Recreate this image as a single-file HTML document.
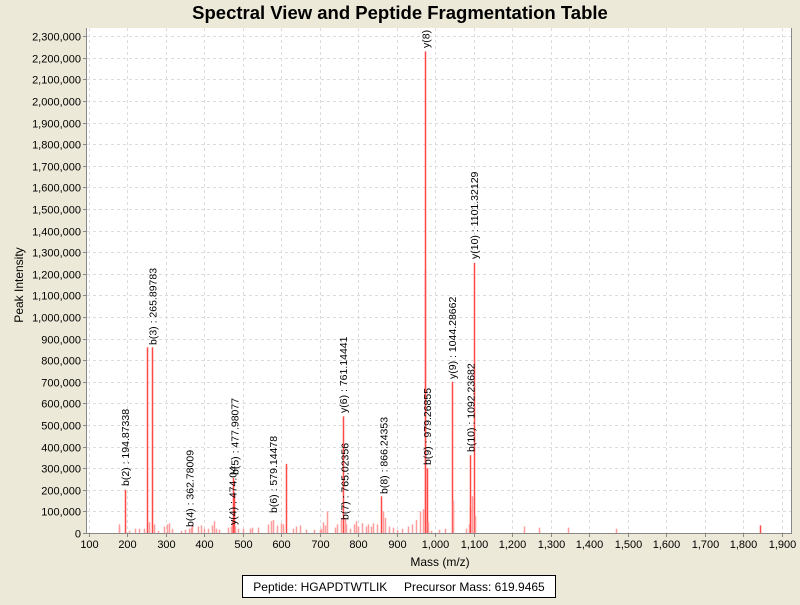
<!DOCTYPE html>
<html><head><meta charset="utf-8"><style>
body{margin:0;background:#ece9d8;width:800px;height:600px;overflow:hidden;font-family:"Liberation Sans",sans-serif}
</style></head><body>
<svg id="s" width="800" height="600" xmlns="http://www.w3.org/2000/svg" font-family="Liberation Sans, sans-serif">
<rect width="800" height="600" fill="#ece9d8"/>
<text x="400" y="19" text-anchor="middle" font-size="18.5" font-weight="bold">Spectral View and Peptide Fragmentation Table</text>
<defs><clipPath id="c"><rect x="87" y="28" width="705" height="505"/></clipPath></defs>
<rect x="87" y="28" width="705" height="505" fill="#fff"/>
<g id="grid"></g>
<g id="peaks" clip-path="url(#c)"></g>
<g id="labels" clip-path="url(#c)" font-size="10.5"></g>
<line x1="86.5" y1="28" x2="86.5" y2="533.5" stroke="#888"/>
<line x1="86" y1="533.5" x2="792" y2="533.5" stroke="#888"/>
<line x1="791.5" y1="28" x2="791.5" y2="533.5" stroke="#888"/>
<g id="ticks" font-size="11"></g>
<text x="440" y="566" text-anchor="middle" font-size="12">Mass (m/z)</text>
<text transform="translate(23,285) rotate(-90)" text-anchor="middle" font-size="12">Peak Intensity</text>
<rect x="242.5" y="575.5" width="313" height="22" fill="#fff" stroke="#000"/>
<text x="399" y="591" text-anchor="middle" font-size="12" xml:space="preserve">Peptide: HGAPDTWTLIK     Precursor Mass: 619.9465</text>
</svg>
<script>
var NS="http://www.w3.org/2000/svg";
function X(m){return 88.5+(m-100)*0.385}
function Y(v){return 533-v/100000*21.6}
function el(p,t,a,txt){var e=document.createElementNS(NS,t);for(var k in a)e.setAttribute(k,a[k]);if(txt!=null)e.textContent=txt;p.appendChild(e);return e}
var g=document.getElementById('grid'),tk=document.getElementById('ticks');
for(var m=100;m<=1900;m+=100){var x=Math.round(X(m))+0.5;
el(g,'line',{x1:x,y1:28,x2:x,y2:533,stroke:'#dcdcdc','stroke-dasharray':'3,3'});
el(tk,'line',{x1:x,y1:533,x2:x,y2:537,stroke:'#888'});
el(tk,'text',{x:x,y:548,'text-anchor':'middle'},m.toLocaleString('en-US'));}
for(var v=0;v<=2300000;v+=100000){var y=Math.round(Y(v))+0.5;
if(v>0)el(g,'line',{x1:87,y1:y,x2:791,y2:y,stroke:'#dcdcdc','stroke-dasharray':'3,3'});
el(tk,'line',{x1:83,y1:y,x2:87,y2:y,stroke:'#888'});
el(tk,'text',{x:81,y:y+4,'text-anchor':'end'},v.toLocaleString('en-US'));}
var P=[[178,40],[180,25],[195,200,1],[205,10],[222,20],[232,20],[245,20],[253,860,1],[256,50],[266,860,1],[270,40],[280,10],[296,30],[305,40],[310,45],[318,20],[340,10],[350,15],[360,20],[366,25],[370,40],[385,30],[392,35],[400,20],[410,20],[420,35],[425,55],[430,20],[440,15],[462,25],[470,30],[474,60],[476,255,1],[478,180,1],[480,30],[488,20],[500,20],[520,20],[525,25],[540,25],[565,40],[575,55],[580,60],[590,35],[600,45],[605,40],[612,320,1],[630,20],[640,30],[650,35],[665,15],[685,15],[700,15],[705,20],[710,50],[715,35],[720,100],[740,25],[745,40],[755,70],[761,540,1],[765,70],[770,40],[780,20],[790,40],[795,55],[800,30],[810,45],[820,30],[825,40],[835,30],[840,45],[850,40],[860,170,1],[866,100],[870,70],[880,30],[890,25],[900,15],[915,20],[930,30],[940,40],[950,60],[960,100],[970,110],[973,1220],[975,2230,1],[979,300,1],[983,50],[990,10],[1010,15],[1025,20],[1044,700,1],[1046,150],[1080,20],[1088,40],[1090,120],[1092,360,1],[1095,170],[1101,1250,1],[1103,80],[1230,30],[1270,25],[1345,25],[1470,20],[1845,35,1]];
var pg=document.getElementById('peaks');
P.forEach(function(p){var x=Math.round(X(p[0]))+0.5;el(pg,'line',{x1:x,y1:533,x2:x,y2:Y(p[1]*1000),stroke:p[2]?'#ff4848':'#ff9c9c','stroke-width':1.5});});
var L=[[125,486,'b(2) : 194.87338'],[152.4,345,'b(3) : 265.89783'],[189.7,527,'b(4) : 362.78009'],[232.6,525,'y(4) : 474.04'],[234.5,475,'b(5) : 477.98077'],[273,513,'b(6) : 579.14478'],[343,413,'y(6) : 761.14441'],[344.6,520,'b(7) : 765.02356'],[383.5,494,'b(8) : 866.24353'],[425.5,48,'y(8) : 975.28546'],[427,465,'b(9) : 979.26855'],[452,379,'y(9) : 1044.28662'],[470.6,452,'b(10) : 1092.23682'],[474,259,'y(10) : 1101.32129']];
var lg=document.getElementById('labels');
L.forEach(function(l){var x=l[0]+4,y=l[1];el(lg,'text',{x:x,y:y,transform:'rotate(-90 '+x+' '+y+')'},l[2]);});
</script>
</body></html>
